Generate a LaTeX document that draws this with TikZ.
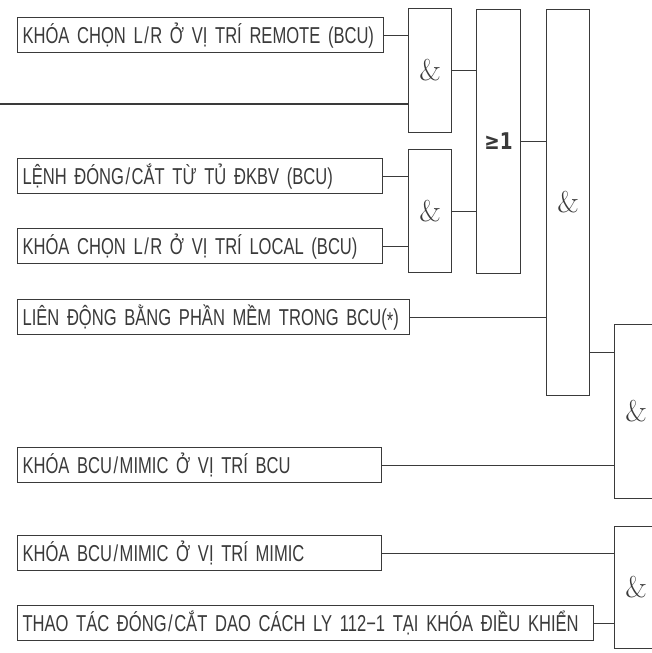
\documentclass[tikz,border=0pt]{standalone}
\usepackage{fontspec}
\newfontfamily\vnfont{Liberation Sans}[FakeStretch=0.72,WordSpace=2.8]
\newfontfamily\symfont{DejaVu Sans}[FakeStretch=0.8]
\newcommand\wsl{\kern1.5pt/\kern1.5pt}
\definecolor{ln}{HTML}{3A3A3A}
\begin{document}
\begin{tikzpicture}[x=1pt,y=-1pt,
  lbl/.style={draw=ln, line width=1.1pt, fill=white, anchor=north west,
    inner xsep=5pt, inner ysep=0pt, minimum height=35pt, text height=16pt,
    text depth=0pt, font=\vnfont\fontsize{23}{23}\selectfont, text=ln, align=left},
  gate/.style={draw=ln, line width=1.1pt, fill=white, anchor=north west, inner sep=0pt,
    minimum width=43pt, text=ln, font=\fontsize{30}{30}\selectfont},
  wire/.style={draw=ln, line width=1.1pt}]
\useasboundingbox (0,0) rectangle (652,653);
\clip (0,0) rectangle (652,653);
% input label boxes
\node[lbl, text width=356pt] (b1) at (17,17) {KHÓA CHỌN L\wsl R Ở VỊ TRÍ REMOTE (BCU)};
\node[lbl, text width=355pt] (b2) at (17,158) {LỆNH ĐÓNG\wsl CẮT TỪ TỦ ĐKBV (BCU)};
\node[lbl, text width=355pt] (b3) at (17,228) {KHÓA CHỌN L\wsl R Ở VỊ TRÍ LOCAL (BCU)};
\node[lbl, text width=382pt] (b4) at (17,299) {LIÊN ĐỘNG BẰNG PHẦN MỀM TRONG BCU(\raisebox{-0.3ex}{*})};
\node[lbl, text width=354pt] (b5) at (17,447) {KHÓA BCU\wsl MIMIC Ở VỊ TRÍ BCU};
\node[lbl, text width=354pt] (b6) at (17,535) {KHÓA BCU\wsl MIMIC Ở VỊ TRÍ MIMIC};
\node[lbl, text width=566pt] (b7) at (17,605) {THAO TÁC ĐÓNG\wsl CẮT DAO CÁCH LY 112−1 TẠI KHÓA ĐIỀU KHIỂN};
% gates
\node[gate, minimum height=124pt] (g1) at (408,8) {\&};
\node[gate, minimum height=123pt] (g2) at (408,149) {\&};
\node[gate, minimum width=44pt, minimum height=264pt,
  font=\symfont\bfseries\fontsize{23}{23}\selectfont] (or) at (476,9) {≥1};
\node[gate, minimum height=386pt] (g3) at (546,9) {\&};
\node[gate, minimum height=174pt] (g4) at (614,324) {\&};
\node[gate, minimum height=122pt] (g5) at (614,526) {\&};
% connectors
\coordinate (free) at (0,104);
\draw[wire] (b1.east) -- (b1.east -| g1.west);
\draw[wire] (free) -- (free -| g1.west);
\draw[wire] (b2.east) -- (b2.east -| g2.west);
\draw[wire] (b3.east) -- (b3.east -| g2.west);
\draw[wire] (g1.east) -- (g1.east -| or.west);
\draw[wire] (g2.east) -- (g2.east -| or.west);
\draw[wire] (or.east) -- (or.east -| g3.west);
\draw[wire] (b4.east) -- (b4.east -| g3.west);
\path ([yshift=-150pt]g3.east) coordinate (g3o);
\draw[wire] (g3o) -- (g3o -| g4.west);
\draw[wire] (b5.east) -- (b5.east -| g4.west);
\draw[wire] (b6.east) -- (b6.east -| g5.west);
\draw[wire] (b7.east) -- (b7.east -| g5.west);
\end{tikzpicture}
\end{document}
